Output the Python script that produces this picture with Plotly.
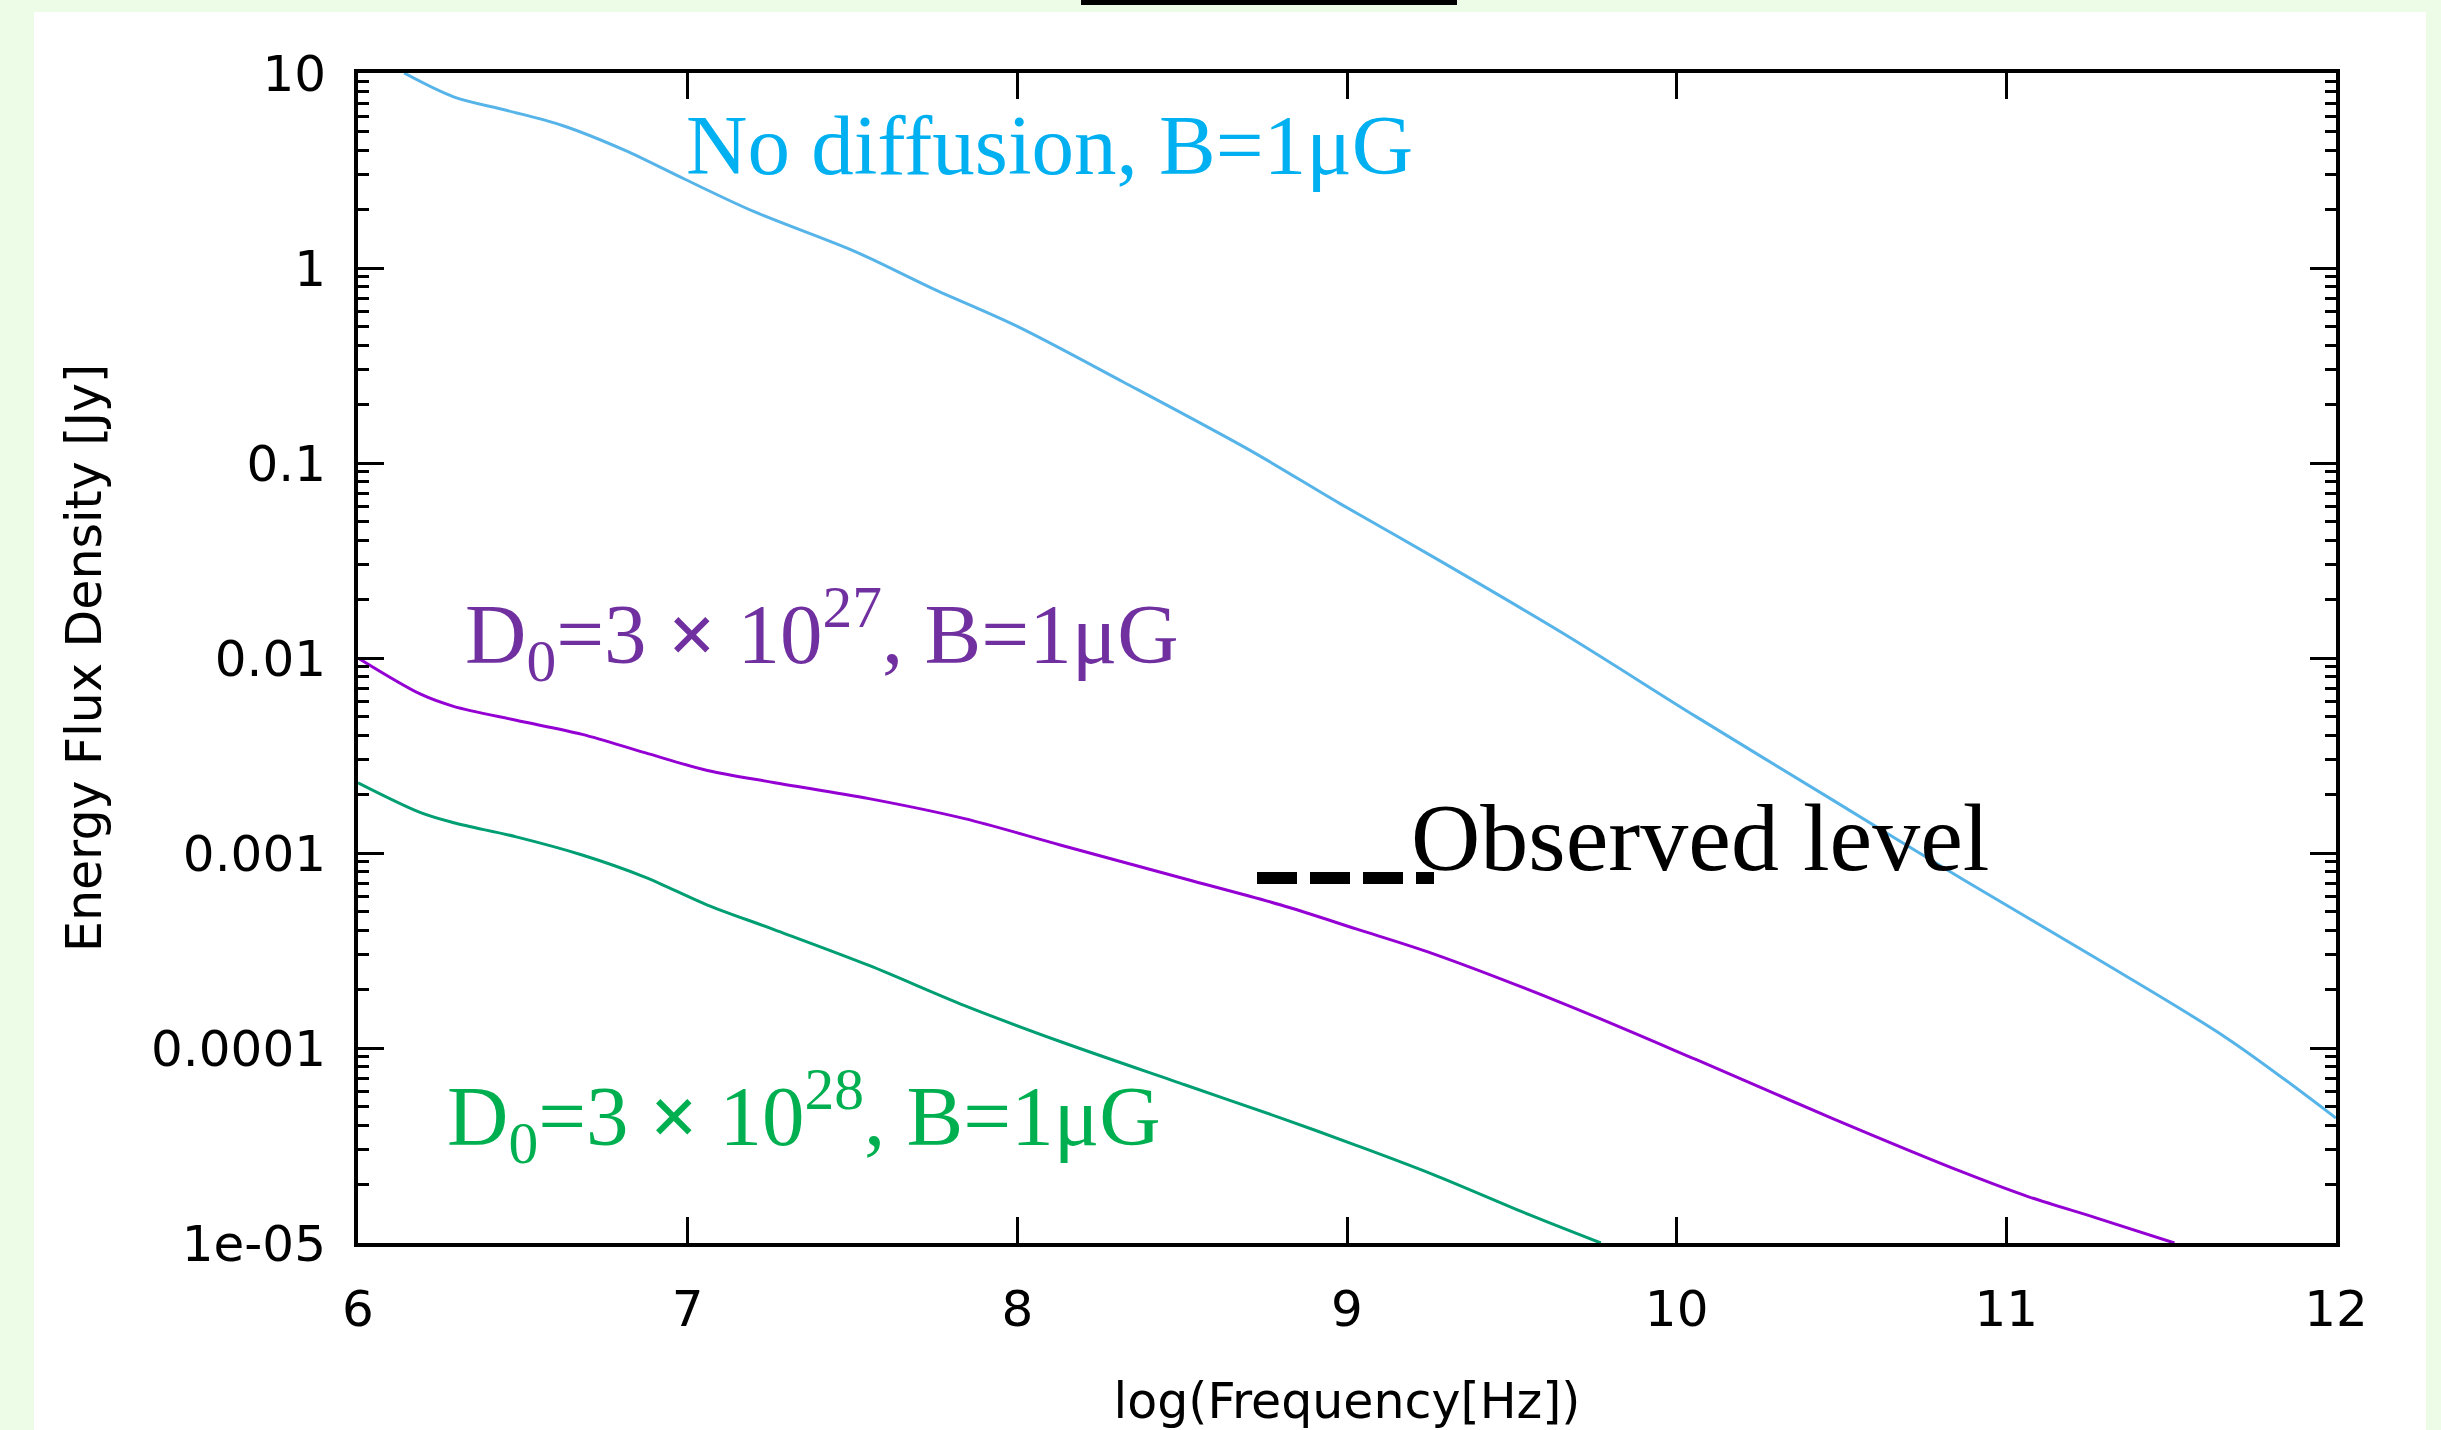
import plotly.graph_objects as go

# ---- data (log10 frequency [Hz], energy flux density [Jy]) ----
freq_nodiff = [6.14, 6.29, 6.45, 6.62, 6.81, 6.99, 7.20, 7.51, 7.74, 8.00, 8.32, 8.71,
               8.98, 9.26, 9.66, 10.06, 10.47, 10.87, 11.27, 11.67, 12.0]
flux_nodiff = [10.0, 7.55, 6.44, 5.38, 4.01, 2.86, 1.95, 1.21, 0.789, 0.502, 0.261, 0.115,
               0.0617, 0.0331, 0.01324, 0.00499, 0.001884, 0.000729, 0.000290, 0.000112, 4.37e-5]

freq_d27 = [6.0, 6.19, 6.29, 6.48, 6.68, 6.87, 7.06, 7.26, 7.55, 7.84, 8.13, 8.51, 8.80,
            9.03, 9.26, 9.66, 10.06, 10.47, 10.87, 11.07, 11.27, 11.51]
flux_d27 = [0.0100, 0.00652, 0.00565, 0.00479, 0.00406, 0.00327, 0.00265, 0.00230, 0.00190,
            0.00150, 0.00110, 0.000736, 0.000541, 0.000407, 0.000305, 0.000168, 8.71e-5,
            4.37e-5, 2.30e-5, 1.72e-5, 1.35e-5, 1.0e-5]

freq_d28 = [6.0, 6.19, 6.29, 6.48, 6.68, 6.87, 7.06, 7.26, 7.55, 7.84, 8.13, 8.51, 8.80,
            9.03, 9.26, 9.56, 9.77]
flux_d28 = [0.00229, 0.00161, 0.00143, 0.00121, 0.000977, 0.000753, 0.000541, 0.000406,
            0.000265, 0.000165, 0.000108, 6.46e-5, 4.37e-5, 3.16e-5, 2.25e-5, 1.38e-5, 1.0e-5]

y_tickvals = [1e-5, 1e-4, 1e-3, 1e-2, 1e-1, 1, 10]
y_ticktext = ["1e-05", "0.0001", "0.001", "0.01", "0.1", "1", "10"]
x_tickvals = [6, 7, 8, 9, 10, 11, 12]

label_nodiff = "No diffusion, B=1μG"
label_d27 = "D<sub>0</sub>=3 <b>×</b> 10<sup>27</sup>, B=1μG"
label_d28 = "D<sub>0</sub>=3 <b>×</b> 10<sup>28</sup>, B=1μG"
label_obs = "Observed level"

# ---- figure geometry ----
W, H = 2441, 1430
L, R, T, B = 358, 2336, 73, 1243


def px(xp):
    return (xp - L) / (R - L)


def py(yp):
    return (B - yp) / (B - T)


fig = go.Figure()
spl = dict(shape="spline", smoothing=0.9, width=3)
fig.add_trace(go.Scatter(x=freq_nodiff, y=flux_nodiff, mode="lines",
                         line=dict(color="#56B4E9", **spl), showlegend=False))
fig.add_trace(go.Scatter(x=freq_d27, y=flux_d27, mode="lines",
                         line=dict(color="#9400D3", **spl), showlegend=False))
fig.add_trace(go.Scatter(x=freq_d28, y=flux_d28, mode="lines",
                         line=dict(color="#009E73", **spl), showlegend=False))

minor_vals = [k * 10.0 ** d for d in range(-5, 1) for k in range(2, 10)]

tickfont = dict(family="DejaVu Sans", size=50, color="black")
titlefont = dict(family="DejaVu Sans", size=49, color="black")
fig.update_xaxes(range=[6, 12], tickmode="array", tickvals=x_tickvals,
                 ticks="inside", ticklen=26, tickwidth=3, tickcolor="black",
                 showline=True, linewidth=4, linecolor="black", mirror="allticks",
                 showgrid=False, zeroline=False, tickfont=tickfont,
                 ticklabelstandoff=19,
                 title=dict(text="log(Frequency[Hz])", font=titlefont, standoff=48))
fig.update_yaxes(type="log", range=[-5, 1], tickmode="array", tickvals=y_tickvals,
                 ticktext=y_ticktext, ticks="inside", ticklen=26, tickwidth=3,
                 tickcolor="black", showline=True, linewidth=4, linecolor="black",
                 mirror="allticks", showgrid=False, zeroline=False, tickfont=tickfont,
                 ticklabelstandoff=18,
                 minor=dict(tickmode="array", tickvals=minor_vals, ticks="inside",
                            ticklen=11, tickwidth=3, tickcolor="black", showgrid=False),
                 title=dict(text="Energy Flux Density [Jy]", font=titlefont, standoff=35))

serif = "Liberation Serif, Times New Roman, serif"
annots = [
    dict(text=label_nodiff, x=px(684), y=py(145), color="#00B0F0", size=85),
    dict(text=label_d27, x=px(463), y=py(634), color="#7030A0", size=85),
    dict(text=label_d28, x=px(445), y=py(1116), color="#00B050", size=85),
    dict(text=label_obs, x=px(1409), y=py(837), color="black", size=96),
]
for a in annots:
    fig.add_annotation(text=a["text"], x=a["x"], y=a["y"], xref="paper", yref="paper",
                       xanchor="left", yanchor="middle", showarrow=False,
                       font=dict(family=serif, size=a["size"], color=a["color"]))

shapes = [
    # white panel on light-green page
    dict(type="rect", xref="paper", yref="paper", x0=px(34), x1=px(2426), y0=py(1440), y1=py(12),
         fillcolor="white", line=dict(width=0), layer="below"),
    # black bar at top
    dict(type="rect", xref="paper", yref="paper", x0=px(1081), x1=px(1457), y0=py(5), y1=py(-5),
         fillcolor="black", line=dict(width=0), layer="below"),
    # observed-level dashed marker
    dict(type="line", xref="paper", yref="paper", x0=px(1257), x1=px(1434), y0=py(878), y1=py(878),
         line=dict(color="black", width=12, dash="40px,13px")),
]
fig.update_layout(width=W, height=H, margin=dict(l=L, r=W - R, t=T, b=H - B, autoexpand=False),
                  paper_bgcolor="#EDFCE6", plot_bgcolor="white", shapes=shapes,
                  font=dict(family="DejaVu Sans", color="black"))

fig.write_html("out.html", config={"displayModeBar": False},
               post_script="document.body.style.margin='0';document.body.style.overflow='hidden';")
